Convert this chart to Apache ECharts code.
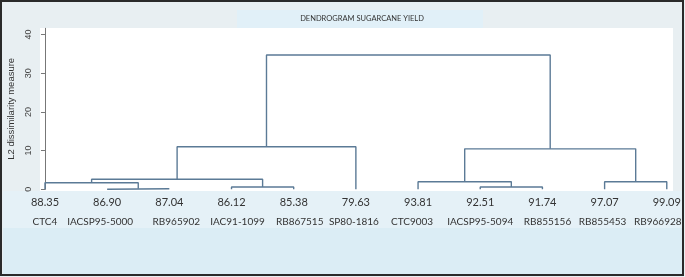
<!DOCTYPE html>
<html>
<head>
<meta charset="utf-8">
<script src="https://cdn.jsdelivr.net/npm/echarts@6/dist/echarts.min.js"></script>
<style>
  html, body { margin: 0; padding: 0; background: #e8eff2; }
  #chart { width: 685px; height: 277px; }
</style>
</head>
<body>
<div id="chart"></div>
<script>
// leaves, left to right
var leaves = ['CTC4', 'IACSP95-5000', 'RB965902', 'IAC91-1099', 'RB867515', 'SP80-1816',
  'CTC9003', 'IACSP95-5094', 'RB855156', 'RB855453', 'RB966928'];
var yields = ['88.35', '86.90', '87.04', '86.12', '85.38', '79.63',
  '93.81', '92.51', '91.74', '97.07', '99.09'];
// merges: node 11 onward, children are leaf index or earlier merge node
var mergeLeft = [1, 3, 7, 0, 6, 9, 14, 15, 17, 19];
var mergeRight = [2, 4, 8, 11, 13, 10, 12, 16, 5, 18];
var mergeHeight = [0.14, 0.6, 0.6, 1.7, 1.96, 1.96, 2.6, 10.45, 11.0, 34.7];
var yTicks = [0, 10, 20, 30, 40];

// names sit in a loose text row under the leaves, nudged a few px
var nameNudge = [0, -7, 7, 6, 6, -2, -6, 0, 5, -2, -9];

var nodeX = leaves.map(function (d, i) { return i; });
var nodeH = leaves.map(function () { return 0; });
var links = [];
for (var k = 0; k < mergeLeft.length; k++) {
  var l = mergeLeft[k], r = mergeRight[k], h = mergeHeight[k];
  links.push([[nodeX[l], nodeH[l]], [nodeX[l], h], [nodeX[r], h], [nodeX[r], nodeH[r]]]);
  nodeX.push((nodeX[l] + nodeX[r]) / 2);
  nodeH.push(h);
}

var rich = { a: { fontFamily: 'Lato', fontSize: 11, color: '#333', lineHeight: 19 } };
nameNudge.forEach(function (d, i) {
  rich['b' + i] = {
    fontFamily: 'Lato', fontSize: 10, color: '#333', lineHeight: 19,
    padding: d < 0 ? [0, -2 * d, 0, 0] : [0, 0, 0, 2 * d]
  };
});

var chart = echarts.init(document.getElementById('chart'));
var option = {
  backgroundColor: '#e8eff2',
  animation: false,
  graphic: [
    { type: 'rect', shape: { x: 40, y: 28, width: 633, height: 163 }, style: { fill: '#ffffff' }, z: -10 },
    { type: 'rect', shape: { x: 3, y: 191, width: 679, height: 37 }, style: { fill: '#e5f1f7' }, z: -10 },
    { type: 'rect', shape: { x: 3, y: 228, width: 679, height: 46 }, style: { fill: '#dbedf5' }, z: -10 },
    { type: 'rect', shape: { x: 237, y: 10, width: 246, height: 18 }, style: { fill: '#e1f0f8' }, z: -5 },
    { type: 'text', x: 362, y: 19, style: { text: 'DENDROGRAM SUGARCANE YIELD', fill: '#333', font: '7.5px Lato', align: 'center', verticalAlign: 'middle' } },
    { type: 'rect', shape: { x: 1, y: 1, width: 682, height: 274 }, style: { fill: 'none', stroke: '#2a2a2a', lineWidth: 2 }, z: 100 }
  ],
  grid: { left: 40, right: 12, top: 28.3, bottom: 87.7, containLabel: false, outerBoundsMode: 'none' },
  xAxis: {
    type: 'value', min: -0.08, max: 10.1,
    splitLine: { show: false }, axisLine: { show: false }, axisTick: { show: false },
    axisLabel: {
      customValues: leaves.map(function (d, i) { return i; }),
      margin: 4,
      hideOverlap: false,
      formatter: function (v) {
        var i = Math.round(v);
        return '{a|' + yields[i] + '}\n{b' + i + '|' + leaves[i] + '}';
      },
      rich: rich
    }
  },
  yAxis: {
    type: 'value', min: 0, max: 41.6,
    name: 'L2 dissimilarity measure', nameLocation: 'middle', nameGap: 21, nameRotate: 90,
    nameTextStyle: { fontFamily: 'Liberation Sans', fontSize: 9.5, color: '#333' },
    splitLine: { show: false },
    axisLine: { show: true, lineStyle: { color: '#777', width: 1 } },
    axisTick: { show: true, length: 4, customValues: yTicks, lineStyle: { color: '#777' } },
    axisLabel: { customValues: yTicks, rotate: 90, margin: 7, fontFamily: 'Liberation Sans', fontSize: 9, color: '#444' }
  },
  series: links.map(function (pts) {
    return {
      type: 'line', data: pts, symbol: 'none', silent: true,
      lineStyle: { color: '#5b7a96', width: 1.4 }
    };
  })
};
chart.setOption(option);
</script>
</body>
</html>
